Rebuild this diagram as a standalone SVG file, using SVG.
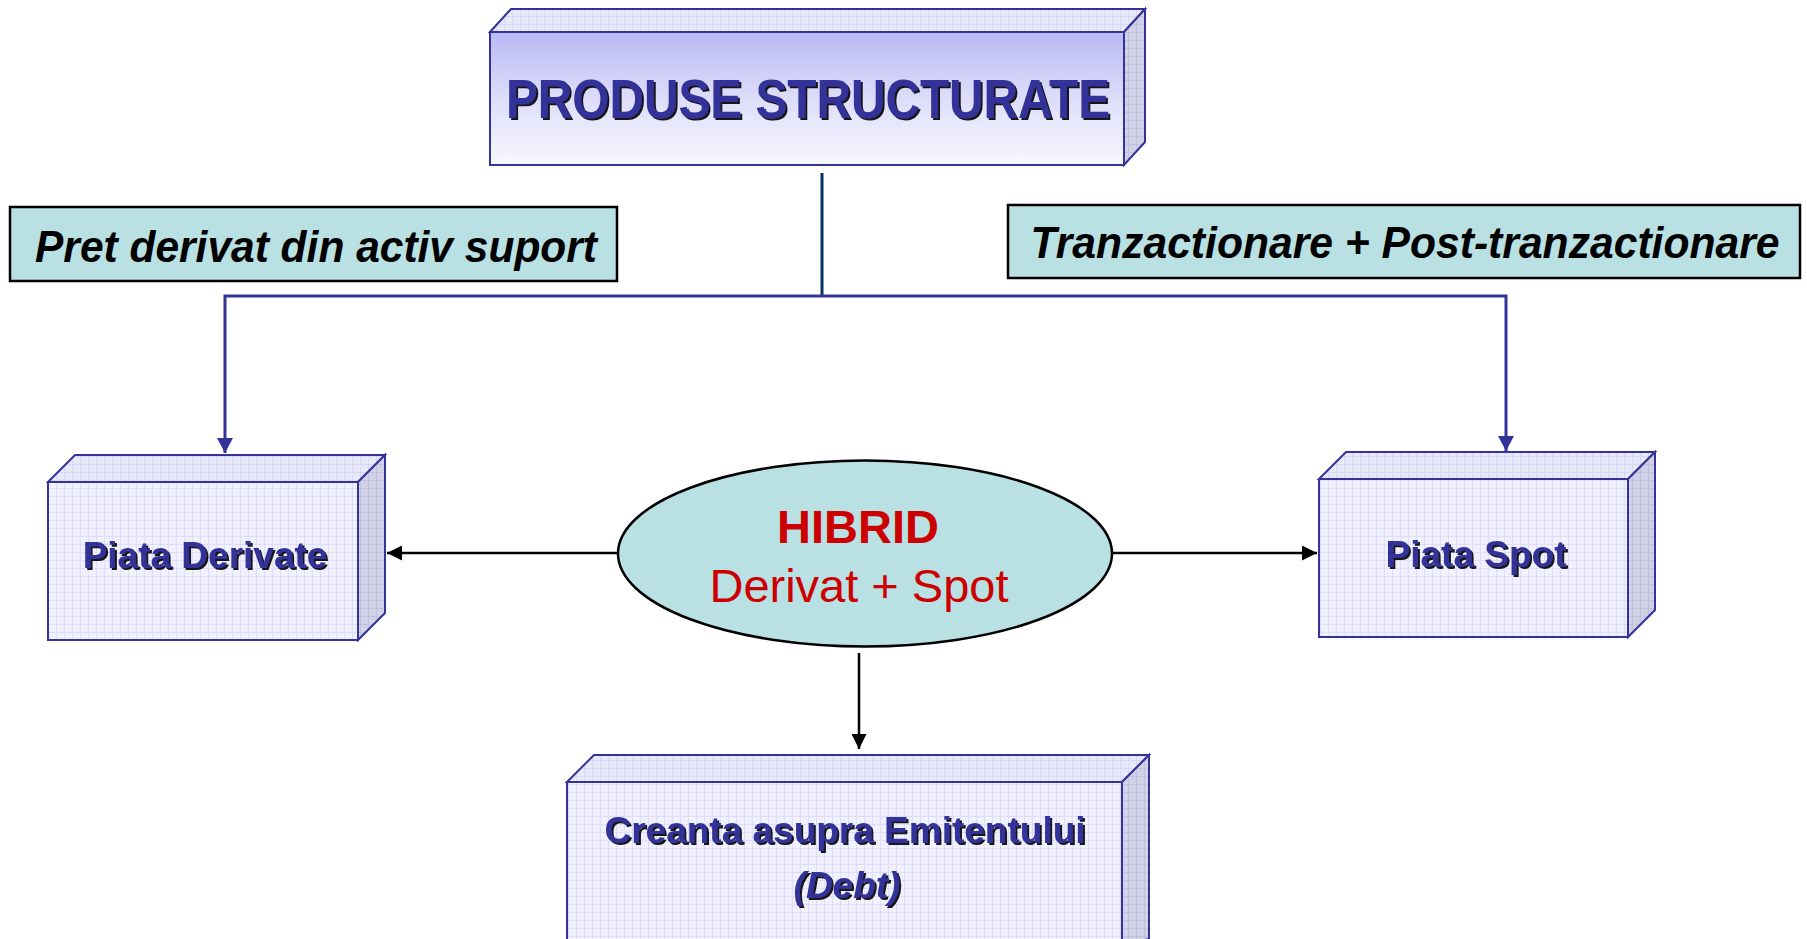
<svg xmlns="http://www.w3.org/2000/svg" width="1807" height="939" viewBox="0 0 1807 939">
  <defs>
    <pattern id="grid" width="8" height="8" patternUnits="userSpaceOnUse">
      <rect width="8" height="8" fill="#F0F0FF"/>
      <path d="M0 0.5H8M0.5 0V8" stroke="#DEDEF8" stroke-width="1"/>
    </pattern>
    <pattern id="gridTop" width="8" height="8" patternUnits="userSpaceOnUse">
      <rect width="8" height="8" fill="#E8E8FB"/>
      <path d="M0 0.5H8M0.5 0V8" stroke="#D8D8F4" stroke-width="1"/>
    </pattern>
    <pattern id="gridSide" width="8" height="8" patternUnits="userSpaceOnUse">
      <rect width="8" height="8" fill="#D0D0E6"/>
      <path d="M0 0.5H8M0.5 0V8" stroke="#C0C0DA" stroke-width="1"/>
    </pattern>
    <linearGradient id="titleGrad" x1="0" y1="0" x2="0" y2="1">
      <stop offset="0" stop-color="#B9B9F5"/>
      <stop offset="0.5" stop-color="#DDDDFA"/>
      <stop offset="1" stop-color="#F8F8FF"/>
    </linearGradient>
    <filter id="shadow" x="-5%" y="-20%" width="110%" height="140%">
      <feDropShadow dx="2" dy="2" stdDeviation="0.4" flood-color="#000000" flood-opacity="0.9"/>
    </filter>
    <marker id="arrowBlue" markerUnits="userSpaceOnUse" markerWidth="16" markerHeight="16" refX="15" refY="8" orient="auto">
      <path d="M0 0 L15 8 L0 16 z" fill="#333399"/>
    </marker>
    <marker id="arrowBlack" markerUnits="userSpaceOnUse" markerWidth="16" markerHeight="15" refX="15" refY="7.5" orient="auto">
      <path d="M0 0 L15 7.5 L0 15 z" fill="#000000"/>
    </marker>
  </defs>
  <style>
    .face { stroke: #333399; stroke-width: 2; stroke-linejoin: miter; }
    .nodeText { font-family: "Liberation Sans", Arial, sans-serif; font-weight: bold; fill: #333399; text-anchor: middle; filter: url(#shadow); }
    .label { fill: #B9E0E3; stroke: #000000; stroke-width: 2.5; }
    .labelText { font-family: "Liberation Sans", Arial, sans-serif; font-weight: bold; font-style: italic; fill: #000000; font-size: 44px; text-anchor: middle; }
    .hib { font-family: "Liberation Sans", Arial, sans-serif; fill: #CC0000; text-anchor: middle; font-size: 47px; }
    .blue { fill: none; stroke: #333399; stroke-width: 3; }
    .black { fill: none; stroke: #000000; stroke-width: 2.5; }
  </style>

  <rect width="1807" height="939" fill="#FFFFFF"/>

  <!-- Connectors -->
  <g id="connectors">
    <line x1="822" y1="173" x2="822" y2="296" stroke="#003366" stroke-width="3"/>
    <path class="blue" d="M822 296 H225 V453" marker-end="url(#arrowBlue)"/>
    <path class="blue" d="M822 296 H1506 V451" marker-end="url(#arrowBlue)"/>
    <path class="black" d="M619 553 H387" marker-end="url(#arrowBlack)"/>
    <path class="black" d="M1110 553 H1317" marker-end="url(#arrowBlack)"/>
    <path class="black" d="M859 653 V749" marker-end="url(#arrowBlack)"/>
  </g>

  <!-- Title node -->
  <g id="node-produse">
    <polygon class="face" points="490,32 511,9 1145,9 1124,32" fill="url(#gridTop)"/>
    <polygon class="face" points="1124,32 1145,9 1145,142 1124,165" fill="url(#gridSide)"/>
    <rect class="face" x="490" y="32" width="634" height="133" fill="url(#titleGrad)"/>
    <text class="nodeText" x="808" y="118" font-size="55" textLength="604" lengthAdjust="spacingAndGlyphs">PRODUSE STRUCTURATE</text>
  </g>

  <!-- Label boxes -->
  <g id="label-pret">
    <rect class="label" x="10" y="207" width="607" height="74"/>
    <text class="labelText" x="316" y="262" textLength="562" lengthAdjust="spacingAndGlyphs">Pret derivat din activ suport</text>
  </g>
  <g id="label-tranz">
    <rect class="label" x="1008" y="205" width="792" height="73"/>
    <text class="labelText" x="1405" y="258" textLength="749" lengthAdjust="spacingAndGlyphs">Tranzactionare + Post-tranzactionare</text>
  </g>

  <!-- Piata Derivate -->
  <g id="node-derivate">
    <polygon class="face" points="48,482 75,455 385,455 358,482" fill="url(#gridTop)"/>
    <polygon class="face" points="358,482 385,455 385,613 358,640" fill="url(#gridSide)"/>
    <rect class="face" x="48" y="482" width="310" height="158" fill="url(#grid)"/>
    <text class="nodeText" x="205" y="568" font-size="37">Piata Derivate</text>
  </g>

  <!-- Piata Spot -->
  <g id="node-spot">
    <polygon class="face" points="1319,479 1346,452 1655,452 1628,479" fill="url(#gridTop)"/>
    <polygon class="face" points="1628,479 1655,452 1655,610 1628,637" fill="url(#gridSide)"/>
    <rect class="face" x="1319" y="479" width="309" height="158" fill="url(#grid)"/>
    <text class="nodeText" x="1476" y="567" font-size="37">Piata Spot</text>
  </g>

  <!-- Hibrid -->
  <g id="node-hibrid">
    <ellipse cx="865" cy="553.5" rx="247" ry="93" fill="#B9E0E3" stroke="#000000" stroke-width="2.5"/>
    <text class="hib" x="858" y="543" font-weight="bold">HIBRID</text>
    <text class="hib" x="859" y="602">Derivat + Spot</text>
  </g>

  <!-- Creanta -->
  <g id="node-creanta">
    <polygon class="face" points="567,782 594,755 1149,755 1122,782" fill="url(#gridTop)"/>
    <polygon class="face" points="1122,782 1149,755 1149,939 1122,945" fill="url(#gridSide)"/>
    <rect class="face" x="567" y="782" width="555" height="170" fill="url(#grid)"/>
    <text class="nodeText" x="845" y="843" font-size="37">Creanta asupra Emitentului</text>
    <text class="nodeText" x="847" y="898" font-size="37" font-style="italic">(Debt)</text>
  </g>
</svg>
